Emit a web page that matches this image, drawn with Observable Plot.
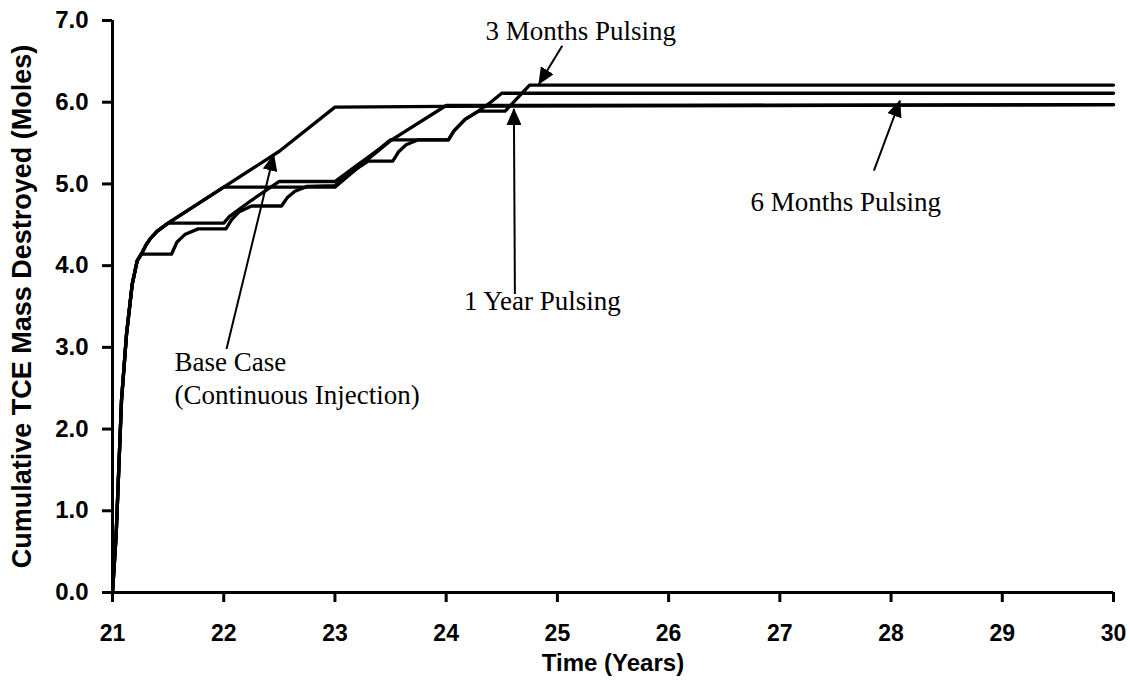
<!DOCTYPE html>
<html>
<head>
<meta charset="utf-8">
<script src="https://cdn.jsdelivr.net/npm/d3@7"></script>
<script src="https://cdn.jsdelivr.net/npm/@observablehq/plot@0.6"></script>
<style>
  html, body { margin: 0; padding: 0; background: #ffffff; }
</style>
</head>
<body>
<div id="chart"></div>
<script>
// ---------- data (years vs cumulative moles destroyed) ----------
const baseT = [21, 21.033, 21.057, 21.081, 21.126, 21.177, 21.222, 21.267, 21.3, 21.34, 21.4, 21.5, 22, 22.5, 23, 24, 30];
const baseM = [0, 0.71, 1.53, 2.35, 3.16, 3.77, 4.06, 4.16, 4.25, 4.33, 4.42, 4.52, 4.96, 5.40, 5.94, 5.95, 5.97];

const m3T = [21, 21.033, 21.057, 21.081, 21.126, 21.177, 21.222, 21.26, 21.53, 21.58, 21.65, 21.77, 22.02, 22.07, 22.14, 22.25, 22.52, 22.57, 22.64, 22.75, 23.0, 23.1, 23.2, 23.3, 23.52, 23.57, 23.64, 23.75, 24.02, 24.07, 24.17, 24.29, 24.53, 24.64, 24.75, 30];
const m3M = [0, 0.71, 1.53, 2.35, 3.16, 3.77, 4.06, 4.14, 4.14, 4.29, 4.38, 4.45, 4.45, 4.56, 4.66, 4.73, 4.73, 4.83, 4.91, 4.97, 4.98, 5.09, 5.19, 5.28, 5.28, 5.39, 5.48, 5.54, 5.54, 5.65, 5.79, 5.89, 5.89, 6.05, 6.21, 6.21];

const m6T = [21, 21.033, 21.057, 21.081, 21.126, 21.177, 21.222, 21.267, 21.3, 21.34, 21.4, 21.5, 22.0, 22.05, 22.12, 22.25, 22.38, 22.5, 23.0, 23.1, 23.2, 23.3, 23.4, 23.5, 24.02, 24.07, 24.17, 24.29, 24.4, 24.5, 30];
const m6M = [0, 0.71, 1.53, 2.35, 3.16, 3.77, 4.06, 4.16, 4.25, 4.33, 4.42, 4.52, 4.52, 4.60, 4.67, 4.80, 4.92, 5.03, 5.03, 5.13, 5.23, 5.33, 5.43, 5.54, 5.54, 5.65, 5.79, 5.89, 6.00, 6.11, 6.11];

const y1T = [21, 21.033, 21.057, 21.081, 21.126, 21.177, 21.222, 21.267, 21.3, 21.34, 21.4, 21.5, 22, 23.0, 23.25, 23.5, 24.0, 30];
const y1M = [0, 0.71, 1.53, 2.35, 3.16, 3.77, 4.06, 4.16, 4.25, 4.33, 4.42, 4.52, 4.96, 4.96, 5.25, 5.53, 5.96, 5.97];

const seriesNames = ["Base Case", "3 Months Pulsing", "6 Months Pulsing", "1 Year Pulsing"];
const seriesT = [baseT, m3T, m6T, y1T];
const seriesM = [baseM, m3M, m6M, y1M];

const xTicks = [21, 22, 23, 24, 25, 26, 27, 28, 29, 30];
const yTicks = [0, 1, 2, 3, 4, 5, 6, 7];

// annotations (in data units)
const noteText = ["Base Case\n(Continuous Injection)", "1 Year Pulsing", "6 Months Pulsing", "3 Months Pulsing"];
const noteT = [21.558, 24.16, 26.737, 24.354];
const noteM = [2.31, 3.456, 4.672, 6.761];
const arrowFromT = [22.025, 24.618, 27.846, 25.044];
const arrowFromM = [2.979, 3.652, 5.162, 6.692];
const arrowToT = [22.45, 24.609, 28.08, 24.834];
const arrowToM = [5.357, 5.917, 6.018, 6.223];

// ---------- tables ----------
const rows = seriesNames.flatMap((name, s) => seriesT[s].map((t, i) => ({series: name, t, m: seriesM[s][i]})));
const notes = noteText.map((text, i) => ({text, t: noteT[i], m: noteM[i]}));
const arrows = arrowFromT.map((t1, i) => ({t1, m1: arrowFromM[i], t2: arrowToT[i], m2: arrowToM[i]}));

const sans = "'Liberation Sans', Arial, Helvetica, sans-serif";
const serif = "'Liberation Serif', 'Times New Roman', Times, serif";

const chart = Plot.plot({
  width: 1130,
  height: 685,
  marginLeft: 112,
  marginRight: 17,
  marginTop: 20,
  marginBottom: 93,
  x: {domain: [21, 30]},
  y: {domain: [0, 7]},
  style: {fontFamily: sans, background: "#ffffff", color: "#000000"},
  marks: [
    Plot.line(rows, {x: "t", y: "m", z: "series", stroke: "#000", strokeWidth: 3.3, strokeLinejoin: "round", strokeLinecap: "round"}),
    Plot.ruleX([21], {stroke: "#000", strokeWidth: 3}),
    Plot.ruleY([0], {stroke: "#000", strokeWidth: 3}),
    Plot.axisX(xTicks, {tickSize: 10, tickPadding: 22, strokeWidth: 3, fontSize: 23, fontWeight: "bold", label: null, tickFormat: d => String(d)}),
    Plot.axisY(yTicks, {tickSize: 10, tickPadding: 14, strokeWidth: 3, fontSize: 24, fontWeight: "bold", label: null, tickFormat: d => d.toFixed(1)}),
    Plot.link(arrows, {x1: "t1", y1: "m1", x2: "t2", y2: "m2", stroke: "#000", strokeWidth: 2}),
    Plot.text(notes, {x: "t", y: "m", text: "text", textAnchor: "start", lineAnchor: "bottom", fontFamily: serif, fontSize: 27, lineHeight: 1.22, fontWeight: "normal", fill: "#000"}),
    Plot.text(["Time (Years)"], {text: d => d, frameAnchor: "bottom", textAnchor: "middle", dy: 78, fontSize: 24, fontWeight: "bold", fill: "#000"}),
    Plot.text(["Cumulative TCE Mass Destroyed (Moles)"], {text: d => d, frameAnchor: "left", textAnchor: "middle", dx: -90, rotate: -90, fontSize: 27, fontWeight: "bold", fill: "#000"})
  ]
});

document.getElementById("chart").appendChild(chart);

// filled triangular arrowheads on the annotation links
const svg = d3.select(chart.tagName.toLowerCase() === "svg" ? chart : chart.querySelector("svg"));
const defs = svg.append("defs");
defs.append("marker")
  .attr("id", "arrowhead-filled")
  .attr("viewBox", "0 0 17 15")
  .attr("refX", 16)
  .attr("refY", 7.5)
  .attr("markerWidth", 17)
  .attr("markerHeight", 15)
  .attr("markerUnits", "userSpaceOnUse")
  .attr("orient", "auto")
  .append("path")
  .attr("d", "M0,0L17,7.5L0,15Z")
  .attr("fill", "#000");
svg.selectAll('g[aria-label="link"] path').attr("marker-end", "url(#arrowhead-filled)");
</script>
</body>
</html>
